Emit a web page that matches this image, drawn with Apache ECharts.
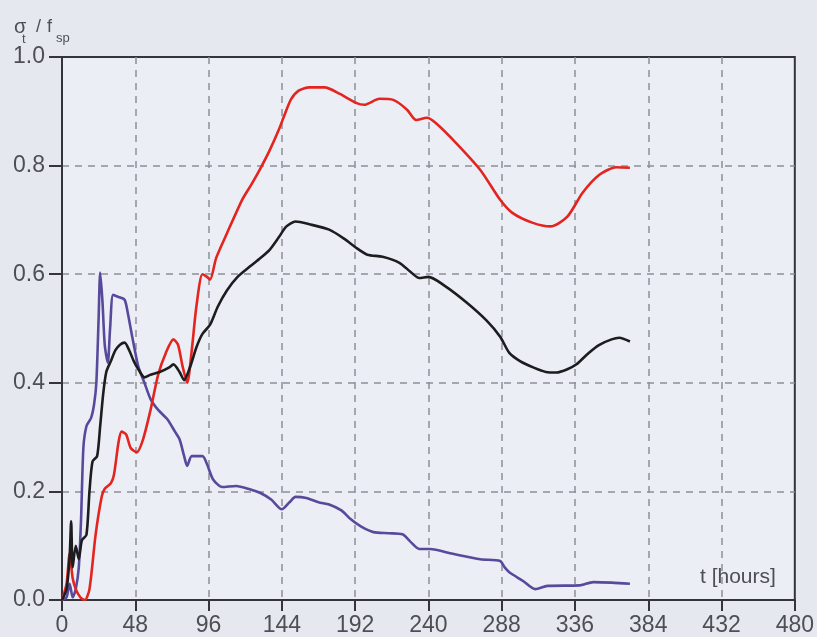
<!DOCTYPE html>
<html>
<head>
<meta charset="utf-8">
<title>Stress ratio over time</title>
<script src="https://cdn.jsdelivr.net/npm/echarts@6/dist/echarts.min.js"></script>
<style>
  html, body { margin: 0; padding: 0; background: #e5e9ef; }
  #chart { width: 817px; height: 637px; }
</style>
</head>
<body>
<div id="chart"></div>
<script>
// Time axis ticks (hours) and ratio ticks
const xTicks = [0, 48, 96, 144, 192, 240, 288, 336, 384, 432, 480];
const yTicks = [0, 0.2, 0.4, 0.6, 0.8, 1.0];

// [t (hours), sigma_t / f_sp] for each measured curve
const redCurve = [
  [0,0],[3,0.03],[5,0.085],[7,0.04],[9,0.02],[12,0.005],[15,0],[18,0.02],[22,0.12],
  [26,0.19],[28,0.205],[32,0.215],[34,0.23],[37,0.29],[39,0.31],[42,0.305],[45,0.28],
  [49,0.272],[53,0.295],[58,0.35],[63,0.415],[68,0.455],[73,0.48],[76,0.47],[79,0.43],
  [82,0.40],[85,0.46],[88,0.54],[92,0.6],[95,0.595],[97,0.59],[101,0.63],[108,0.675],
  [118,0.737],[124,0.765],[130,0.795],[136,0.828],[142,0.866],[146,0.895],[150,0.922],
  [155,0.938],[162,0.944],[172,0.944],[182,0.932],[193,0.915],[198,0.912],[208,0.923],
  [217,0.921],[226,0.903],[232,0.884],[239,0.888],[245,0.878],[258,0.842],[274,0.792],
  [287,0.737],[295,0.713],[308,0.695],[320,0.688],[331,0.706],[341,0.75],[352,0.783],
  [363,0.797],[372,0.796]
];

const blackCurve = [
  [0,0],[3,0.02],[5,0.08],[6,0.145],[7,0.06],[9,0.1],[11,0.075],[13,0.11],[16,0.12],
  [18,0.2],[20,0.255],[23,0.265],[25,0.32],[27,0.38],[29,0.42],[32,0.44],[35,0.46],
  [38,0.47],[41,0.474],[44,0.46],[47,0.44],[50,0.425],[54,0.41],[58,0.415],[64,0.42],
  [70,0.428],[73,0.434],[77,0.42],[80,0.405],[84,0.43],[88,0.465],[92,0.49],[97,0.507],
  [102,0.54],[108,0.57],[115,0.595],[123,0.614],[130,0.63],[136,0.645],[142,0.668],
  [147,0.688],[153,0.697],[162,0.692],[175,0.682],[185,0.665],[193,0.648],[200,0.636],
  [210,0.632],[221,0.621],[228,0.605],[234,0.593],[240,0.595],[250,0.58],[265,0.548],
  [278,0.515],[287,0.485],[293,0.455],[300,0.44],[309,0.428],[317,0.42],[324,0.419],
  [331,0.425],[337,0.434],[345,0.455],[352,0.47],[360,0.48],[365,0.483],[372,0.476]
];

const purpleCurve = [
  [0,0],[3,0.005],[5,0.03],[7,0.005],[9,0.02],[11,0.06],[12.5,0.15],[14,0.28],[16,0.32],
  [19,0.335],[21,0.36],[22.5,0.4],[24,0.52],[25,0.603],[26.5,0.55],[28,0.47],[30,0.437],
  [31.5,0.5],[33.5,0.562],[37,0.558],[41,0.553],[43,0.53],[46,0.485],[50,0.43],[54,0.4],
  [58,0.37],[63,0.35],[69,0.333],[74,0.31],[77,0.296],[80,0.265],[82,0.247],[85,0.265],
  [92,0.265],[95,0.25],[99,0.222],[105,0.208],[114,0.21],[123,0.204],[130,0.197],
  [137,0.185],[144,0.167],[149,0.18],[153,0.19],[160,0.188],[168,0.18],[175,0.176],
  [183,0.165],[189,0.149],[196,0.135],[204,0.125],[214,0.123],[223,0.121],[228,0.108],
  [234,0.094],[241,0.094],[256,0.085],[274,0.075],[287,0.072],[290,0.06],[293,0.051],
  [302,0.035],[310,0.02],[318,0.026],[339,0.027],[348,0.033],[360,0.032],[372,0.03]
];

const textColor = '#4d4f55';
const axisColor = '#34353a';
const fontFamily = '"Liberation Sans", Arial, sans-serif';

const chart = echarts.init(document.getElementById('chart'), null, { renderer: 'canvas' });

function lineSeries(name, data, color) {
  return {
    name: name,
    type: 'line',
    data: data,
    showSymbol: false,
    smooth: 0.25,
    lineStyle: { color: color, width: 2.6 },
    emphasis: { disabled: true },
    z: 3
  };
}

function label(text, left, top, size) {
  return {
    type: 'text',
    left: left, top: top,
    style: { text: text, fill: textColor, font: size + 'px ' + fontFamily },
    z: 5
  };
}

const gridDash = { color: '#8d9099', width: 1.5, type: [7, 6] };

chart.setOption({
  backgroundColor: '#e5e9ef',
  animation: false,
  grid: {
    left: 62, right: 22, top: 57, bottom: 36,
    show: true,
    backgroundColor: '#ebeef4',
    borderColor: axisColor,
    borderWidth: 2
  },
  xAxis: {
    type: 'value',
    min: xTicks[0],
    max: xTicks[xTicks.length - 1],
    interval: xTicks[1] - xTicks[0],
    axisLine: { show: true, lineStyle: { color: axisColor, width: 2 } },
    axisTick: { show: true, length: 11, lineStyle: { color: axisColor, width: 2 } },
    axisLabel: { color: textColor, fontSize: 23, fontFamily: fontFamily, margin: 14 },
    splitLine: { show: true, showMinLine: false, showMaxLine: false, lineStyle: gridDash }
  },
  yAxis: {
    type: 'value',
    min: yTicks[0],
    max: yTicks[yTicks.length - 1],
    interval: 0.2,
    axisLine: { show: true, lineStyle: { color: axisColor, width: 2 } },
    axisTick: { show: true, length: 13, lineStyle: { color: axisColor, width: 2 } },
    axisLabel: {
      color: textColor, fontSize: 23, fontFamily: fontFamily, margin: 17,
      formatter: function (v) { return v.toFixed(1); }
    },
    splitLine: { show: true, showMinLine: false, showMaxLine: false, lineStyle: gridDash }
  },
  graphic: [
    // axis title: sigma_t / f_sp
    label('σ', 14, 17, 20),
    label('t', 22, 33, 13),
    label('/', 36, 18, 18),
    label('f', 47, 18, 18),
    label('sp', 56, 32, 13),
    // x-axis name inside the plot
    label('t [hours]', 700, 567, 21)
  ],
  series: [
    lineSeries('purple', purpleCurve, '#574a9c'),
    lineSeries('red', redCurve, '#e3241f'),
    lineSeries('black', blackCurve, '#1d1d1f')
  ]
});
</script>
</body>
</html>
